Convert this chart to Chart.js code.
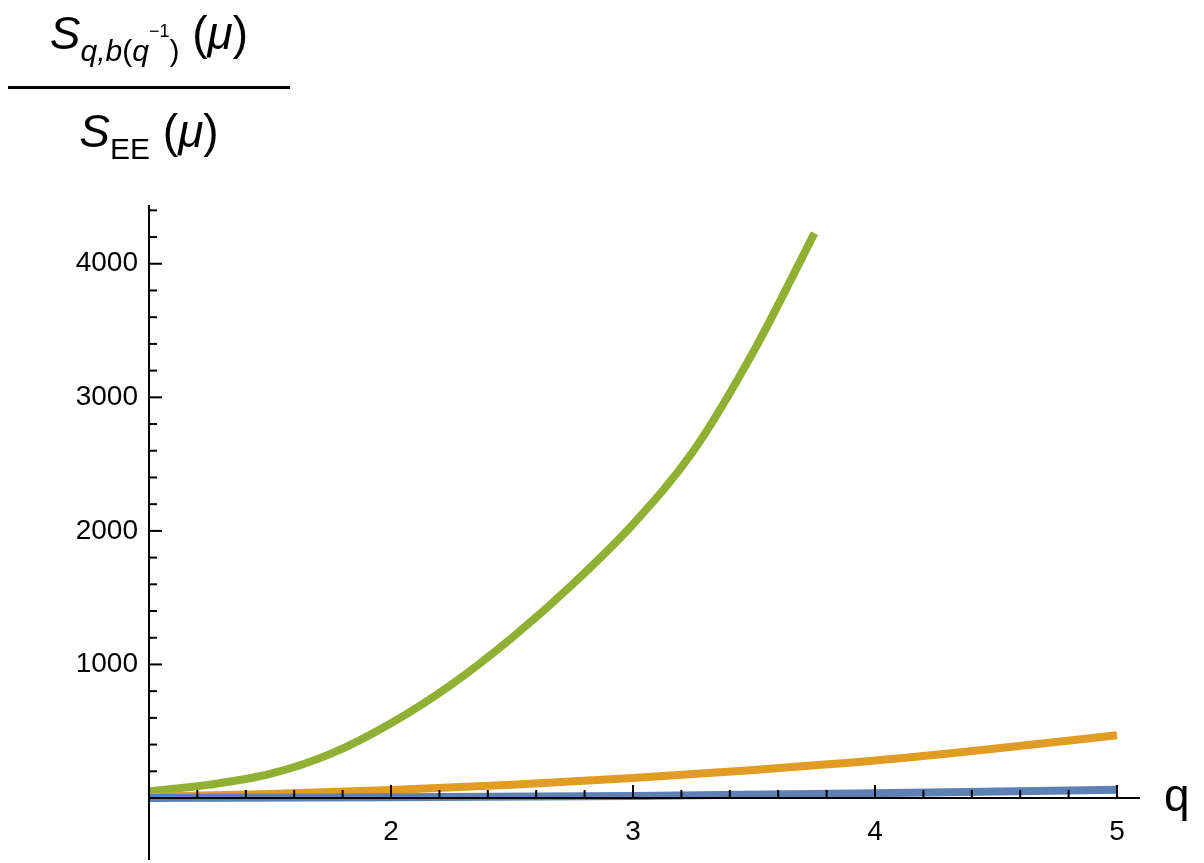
<!DOCTYPE html>
<html>
<head>
<meta charset="utf-8">
<script src="https://cdn.jsdelivr.net/npm/chart.js@4"></script>
<style>
  body { margin: 0; background: #fff; font-family: "Liberation Sans", Arial, sans-serif; }
  #wrap { position: relative; width: 1204px; height: 863px; }
  .frac { position: absolute; left: 8px; top: 0; width: 282px; text-align: center; color: #000; }
  .num { position: absolute; left: 0; top: 6px; width: 282px; font-size: 46px; }
  .bar { position: absolute; left: 0; top: 86px; width: 282px; height: 3px; background: #000; }
  .den { position: absolute; left: 0; top: 104px; width: 282px; font-size: 46px; }
  .s { font-style: italic; }
  .sub { font-size: 30px; font-style: italic; position: relative; top: 12px; }
  .sub2 { font-size: 30px; position: relative; top: 12px; }
  .sup { font-size: 18px; position: relative; top: -12px; }
  #q { position: absolute; left: 1164px; top: 768px; font-size: 46px; }
</style>
</head>
<body>
<div id="wrap">
  <canvas id="c" width="1204" height="863"></canvas>
  <div class="frac">
    <div class="num"><span class="s">S</span><span class="sub">q,b</span><span class="sub2">(</span><span class="sub">q</span><span class="sup" style="font-size:18px">−1</span><span class="sub2">)</span> (<span class="s">μ</span>)</div>
    <div class="bar"></div>
    <div class="den"><span class="s">S</span><span class="sub2">EE</span> (<span class="s">μ</span>)</div>
  </div>
  <div id="q">q</div>
</div>
<script>
// valores
const qGreen = [1, 1.25, 1.5, 1.75, 2, 2.25, 2.5, 2.75, 3, 3.25, 3.5, 3.75];
const vGreen = [50, 100, 180, 330, 560, 850, 1200, 1600, 2050, 2600, 3350, 4230];
const qOrange = [1, 1.5, 2, 2.5, 3, 3.5, 4, 4.5, 5];
const vOrange = [10, 30, 60, 100, 150, 210, 280, 370, 470];
const qBlue = [1, 2, 3, 4, 5];
const vBlue = [0, 5, 15, 35, 62];
const xTicks = [2, 3, 4, 5];
const yTicks = [1000, 2000, 3000, 4000];

const pts = (xs, ys) => xs.map((x, i) => ({ x: x, y: ys[i] }));

// eixos estilo Mathematica, com marcas menores
const axesPlugin = {
    id: 'axes',
    afterDraw(chart) {
        const ctx = chart.ctx;
        const xs = chart.scales.x, ys = chart.scales.y;
        const x0 = xs.getPixelForValue(1), y0 = ys.getPixelForValue(0);
        ctx.save();
        ctx.strokeStyle = '#000';
        ctx.lineWidth = 2;
        ctx.beginPath();
        ctx.moveTo(x0, y0); ctx.lineTo(xs.right, y0);
        ctx.moveTo(x0, y0 + 62); ctx.lineTo(x0, ys.top);
        ctx.stroke();
        ctx.fillStyle = '#000';
        ctx.font = '28px "Liberation Sans", Arial, sans-serif';
        for (let i = 1; i <= 22; i++) {
            const v = i * 200;
            const p = ys.getPixelForValue(v);
            if (p < ys.top) break;
            const len = v % 1000 === 0 ? 13 : 8;
            ctx.beginPath(); ctx.moveTo(x0, p); ctx.lineTo(x0 + len, p); ctx.stroke();
        }
        for (let i = 1; i <= 20; i++) {
            const v = 1 + i * 0.2;
            const p = xs.getPixelForValue(v);
            if (p > xs.right) break;
            const major = Math.abs(v - Math.round(v)) < 1e-6;
            const len = major ? 13 : 8;
            ctx.beginPath(); ctx.moveTo(p, y0); ctx.lineTo(p, y0 - len); ctx.stroke();
        }
        ctx.textAlign = 'right'; ctx.textBaseline = 'middle';
        yTicks.forEach(v => ctx.fillText(String(v), x0 - 11, ys.getPixelForValue(v)));
        ctx.textAlign = 'center'; ctx.textBaseline = 'top';
        xTicks.forEach(v => ctx.fillText(String(v), xs.getPixelForValue(v), y0 + 20));
        ctx.restore();
    }
};

const lineStyle = (color, data) => ({
    data: data, borderColor: color, borderWidth: 8, pointRadius: 0,
    cubicInterpolationMode: 'monotone', fill: false, clip: false
});

new Chart(document.getElementById('c').getContext('2d'), {
    type: 'line',
    data: {
        datasets: [
            lineStyle('#5E81B5', pts(qBlue, vBlue)),
            lineStyle('#E19C24', pts(qOrange, vOrange)),
            lineStyle('#8FB032', pts(qGreen, vGreen))
        ]
    },
    options: {
        responsive: false,
        animation: false,
        layout: { padding: { left: 149, right: 64, top: 205, bottom: 65 } },
        plugins: { legend: { display: false }, tooltip: { enabled: false } },
        scales: {
            x: { type: 'linear', min: 1, max: 5.095, display: false },
            y: { type: 'linear', min: 0, max: 4440, display: false }
        }
    },
    plugins: [axesPlugin]
});
</script>
</body>
</html>
